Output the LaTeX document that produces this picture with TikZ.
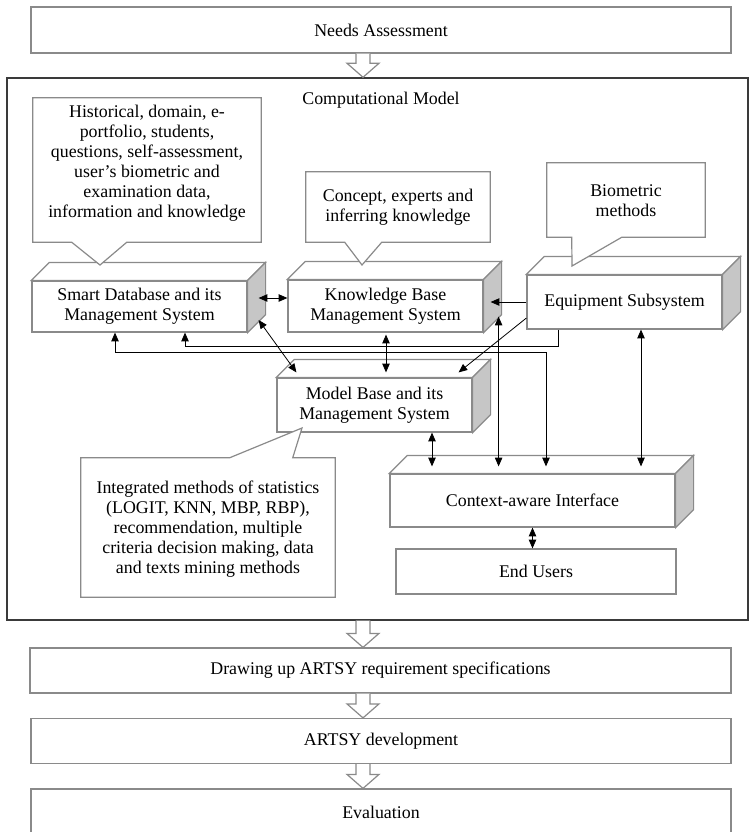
\documentclass[tikz,border=0pt]{standalone}
\usepackage{fontspec}
\setmainfont{Liberation Serif}
\usetikzlibrary{calc,arrows.meta}
\definecolor{boxgray}{HTML}{8A8A8A}
\definecolor{facegray}{HTML}{C6C6C6}
\definecolor{framegray}{HTML}{3A3A3A}
\newcommand\cubefaces[1]{%
  \draw[cubeline, fill=white] (#1.north west) -- ++(18,-18) -- ($(#1.north east)+(18,-18)$) -- (#1.north east) -- cycle;
  \draw[cubeline, fill=facegray] (#1.north east) -- ++(18,-18) -- ($(#1.south east)+(18,-18)$) -- (#1.south east) -- cycle;}
\newcommand\hollowdown[2]{%
  \draw[hollowarrow] ($(#1)+(-7,0)$) -- ($(#2)+(-7,-14)$) -- ($(#2)+(-16,-14)$) -- (#2) -- ($(#2)+(16,-14)$) -- ($(#2)+(7,-14)$) -- ($(#1)+(7,0)$);}
\begin{document}
\begin{tikzpicture}[x=0.75pt,y=-0.75pt,
  every node/.style={font=\fontsize{13.4}{15}\selectfont},
  sz/.style 2 args={minimum width=#1*0.75pt, minimum height=#2*0.75pt},
  plainbox/.style={draw=boxgray, line width=0.9pt, fill=white, inner sep=0pt, align=center},
  stagebox/.style={plainbox, font=\fontsize{13.4}{15}\selectfont},
  cubeline/.style={draw=boxgray, line width=0.9pt, line join=miter},
  txt/.style={inner sep=0pt, align=center},
  calloutline/.style={draw=boxgray, line width=0.9pt, fill=white, line join=miter},
  hollowarrow/.style={draw=boxgray, line width=0.9pt, fill=white, line join=miter},
  link/.style={draw=black, line width=0.6pt, -{Triangle[length=6.5pt,width=5.5pt]}},
  dlink/.style={draw=black, line width=0.6pt, {Triangle[length=6.5pt,width=5.5pt]}-{Triangle[length=6.5pt,width=5.5pt]}},
  pline/.style={draw=black, line width=0.6pt}
]
\useasboundingbox (0,0) rectangle (749,832);

% top and bottom process boxes
\node[stagebox, sz={700}{46}] (na) at (381,30) {Needs Assessment};
\node[stagebox, sz={701}{45}] (dr) at (380.5,670.5) {Drawing up ARTSY requirement specifications};
\node[stagebox, sz={700}{45}] (ad) at (381,741) {ARTSY development};
\node[stagebox, sz={700}{46}] (ev) at (381,812) {Evaluation};

% outer frame
\node[draw=framegray, line width=1.1pt, inner sep=0pt, sz={741}{542}] (fr) at (377.5,349) {};
\node[txt] (cm) at (381,100) {Computational Model};

% hollow arrows
\coordinate (h1a) at ($(na.south)+(-18,0)$);
\coordinate (h1b) at (h1a |- fr.north);
\hollowdown{h1a}{h1b}
\coordinate (h2a) at (h1a |- fr.south);
\coordinate (h2b) at (h1a |- dr.north);
\hollowdown{h2a}{h2b}
\coordinate (h3a) at (h1a |- dr.south);
\coordinate (h3b) at (h1a |- ad.north);
\hollowdown{h3a}{h3b}
\coordinate (h4a) at (h1a |- ad.south);
\coordinate (h4b) at (h1a |- ev.north);
\hollowdown{h4a}{h4b}

% cube boxes
\node[plainbox, sz={215}{51}] (sd) at (139.5,306.5) {Smart Database and its\\Management System};
\cubefaces{sd}
\node[plainbox, sz={195}{52}] (kb) at (385.5,306) {Knowledge Base\\Management System};
\cubefaces{kb}
\node[plainbox, sz={195}{54}] (eq) at (624.5,302) {Equipment Subsystem};
\cubefaces{eq}
\node[plainbox, sz={195}{54}] (mb) at (374.5,405) {Model Base and its\\Management System};
\cubefaces{mb}
\node[plainbox, sz={285}{53}] (ca) at (532.5,500.5) {Context-aware Interface};
\cubefaces{ca}
\node[plainbox, sz={280}{45}] (eu) at (536,571.5) {End Users};

% callouts
\node[txt, sz={228}{144}] (c1) at (147,170) {};
\draw[calloutline] (c1.north west) -- (c1.north east) -- (c1.south east) -- ($(c1.south west)+(94,0)$) -- (100,265) -- ($(c1.south west)+(39,0)$) -- (c1.south west) -- cycle;
\node[txt] at (147,163) {Historical, domain, e-\\portfolio, students,\\questions, self-assessment,\\user's biometric and\\examination data,\\information and knowledge};

\node[txt, sz={184}{70}] (c2) at (398,207) {};
\draw[calloutline] (c2.north west) -- (c2.north east) -- (c2.south east) -- ($(c2.south west)+(76,0)$) -- (362,265) -- ($(c2.south west)+(39,0)$) -- (c2.south west) -- cycle;
\node[txt] at (398,207) {Concept, experts and\\inferring knowledge};

\node[txt, sz={158}{74}] (c3) at (626,200) {};
\draw[calloutline] (c3.north west) -- (c3.north east) -- (c3.south east) -- ($(c3.south west)+(75,0)$) -- (572,266) -- ($(c3.south west)+(25,0)$) -- (c3.south west) -- cycle;
\node[txt] at (626,201) {Biometric\\methods};

\node[txt, sz={254}{139}] (c4) at (208,527.5) {};
\draw[calloutline] (c4.north west) -- ($(c4.north west)+(149,0)$) -- (302,428) -- ($(c4.north west)+(212,0)$) -- (c4.north east) -- (c4.south east) -- (c4.south west) -- cycle;
\node[txt] at (208,529) {Integrated methods of statistics\\(LOGIT, KNN, MBP, RBP),\\recommendation, multiple\\criteria decision making, data\\and texts mining methods};

% connector end points
\coordinate (p1) at ($(sd.east)+(11,-8.5)$);
\coordinate (p2a) at ($(sd.east)+(11,13.5)$);
\coordinate (p2b) at ($(mb.north west)+(20,-5)$);
\coordinate (p3a) at ($(kb.south)+(0.5,2)$);
\coordinate (p3b) at ($(p3a |- mb.north)+(0,-5)$);
\coordinate (p4) at ($(kb.east)+(7,0)$);
\coordinate (p5a) at ($(eq.west)+(0,16)$);
\coordinate (p5b) at ($(mb.north east)+(-14,-5)$);
\coordinate (catop) at ($(ca.north)+(0,-7)$);
\coordinate (p6a) at ($(kb.south east)+(15,-16)$);
\coordinate (p7a) at ($(eq.south west)+(32,0)$);
\coordinate (p7b) at ($(sd.south)+(45.5,0)$);
\coordinate (p8a) at ($(sd.south)+(-24.5,0)$);
\coordinate (p8b) at ($(ca.north)+(13.5,-7)$);
\coordinate (p9a) at ($(eq.south)+(16.5,0)$);
\coordinate (p10a) at ($(mb.south)+(57.5,0)$);

% connectors
\draw[dlink] (p1) -- (p1 -| kb.west);
\draw[dlink] (p2a) -- (p2b);
\draw[dlink] (p3a) -- (p3b);
\draw[link] (eq.west) -- (eq.west -| p4);
\draw[link] (p5a) -- (p5b);
\draw[dlink] (p6a) -- (p6a |- catop);
\draw[link] (p7a) -- ++(0,17) -| (p7b);
\draw[dlink] (p8a) -- ++(0,20) -| (p8b);
\draw[dlink] (p9a) -- (p9a |- catop);
\draw[dlink] (p10a) -- (p10a |- catop);
\draw[dlink] (ca.south) -- (ca.south |- eu.north);
\end{tikzpicture}
\end{document}
